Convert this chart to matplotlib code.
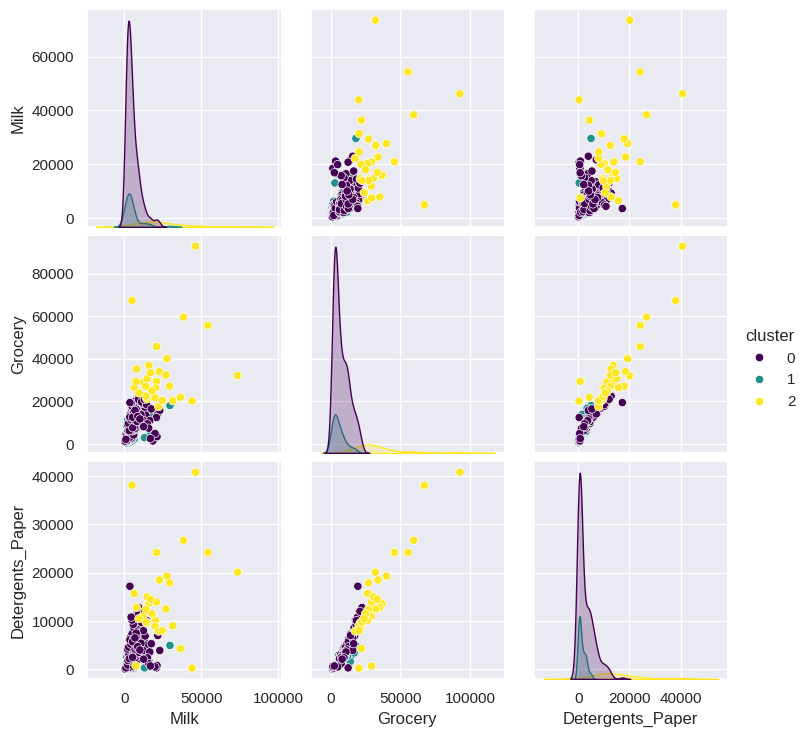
import matplotlib
matplotlib.use("Agg")
import matplotlib.pyplot as plt
import pandas as pd
import seaborn as sns

# cluster 0 (purple) - Milk / Grocery / Detergents_Paper, same order in each list
milk_0 = [
    1200, 2500, 830, 3100, 1650, 4200, 560, 2900, 1900, 3700,
    1400, 2200, 5100, 950, 3300, 1750, 2650, 4500, 640, 2050,
    3900, 1100, 2750, 1580, 4800, 2300, 730, 3450, 1920, 5400,
    2480, 1320, 3650, 860, 2120, 4050, 1460, 3020, 5600, 1780,
    670, 2890, 1230, 3280, 2010, 4620, 1540, 3800, 990, 2600,
    1850, 3550, 450, 2350, 1680, 4300, 2780, 1050, 3150, 5000,
    1270, 2180, 3420, 780, 2560, 1990, 4150, 1380, 3050, 2420,
    3750, 1600, 940, 2700, 4450, 1150, 2230, 3350, 1820, 600,
    2090, 2950, 1480, 5250, 3600, 880, 2520, 1710, 4000, 1340,
    2820, 3950, 1060, 2340, 1880, 4750, 3200, 720, 2640, 1510,
    3480, 1170, 2460, 4380, 820, 1930, 3070, 2260, 5450, 1620,
    2140, 980, 3880, 1410, 2710, 3330, 1760, 4900, 540, 2390,
    1290, 3160, 2030, 4550, 1570, 2870, 3720, 1030, 2190, 6100,
    4800, 6200, 3100, 7400, 5500, 2500, 8600, 4200, 6900, 3700,
    5900, 2900, 7900, 4500, 9400, 3400, 6500, 5200, 2200, 8100,
    4100, 7100, 3300, 5700, 8900, 2700, 6000, 4900, 7600, 3900,
    5300, 9900, 3600, 6700, 4400, 8300, 2400, 5800, 7200, 4700,
    3000, 6400, 8700, 4600, 5600, 2100, 7700, 3500, 9100, 6100,
    4300, 7000, 3200, 5100, 8000, 2800, 6600, 4000, 5400, 9600,
    9000, 10000, 11000, 12000, 9500, 10500, 8500, 11500, 12800, 7500,
    6500, 8800, 13500, 10200, 9800, 7900, 11800, 14000, 12400, 5500,
    4500, 3800, 8300, 6700, 9300, 5000, 4200, 7300, 6200, 3600,
    7000, 5800, 10800, 8200, 4900, 12200, 6000, 9100, 5300, 7700,
    11200, 6900, 8700, 4400, 10100,
    3600, 21700, 23000, 20800, 18500, 21200, 16500, 15000, 14500, 13000,
    17500, 15800, 19900, 12500, 16900]
grocery_0 = [
    2100, 3400, 1500, 4100, 2600, 3900, 1250, 2800, 3300, 4700,
    1900, 4400, 5200, 2300, 3600, 2950, 5600, 3100, 1700, 2400,
    4900, 1400, 2200, 3800, 6100, 1800, 2650, 4300, 3500, 2900,
    2700, 3150, 5800, 1600, 4600, 2350, 2050, 3700, 4500, 6400,
    1100, 2500, 3950, 1950, 5300, 3350, 1450, 2600, 4200, 3050,
    2250, 4800, 900, 3750, 1650, 4050, 6300, 2450, 2150, 5500,
    3250, 2000, 3450, 2750, 4950, 1350, 2800, 5050, 3900, 1750,
    3600, 4250, 1950, 2150, 5450, 3050, 5900, 2300, 2850, 3400,
    3850, 1550, 4650, 4150, 3000, 3550, 2550, 1200, 5150, 2700,
    4350, 2050, 3200, 6600, 2450, 3750, 4550, 2100, 1850, 5700,
    2350, 2900, 3300, 4850, 1500, 6000, 2150, 4000, 3500, 3650,
    1650, 4450, 2750, 2400, 3550, 5350, 3800, 2500, 1350, 4750,
    2600, 3950, 1900, 2950, 4100, 5000, 3250, 2250, 6200, 4300,
    7100, 8600, 6800, 9900, 10800, 7500, 9200, 11600, 8100, 12400,
    6500, 9600, 10300, 7800, 8400, 12900, 11100, 6200, 8900, 7300,
    10100, 6900, 9400, 11900, 9700, 8200, 12200, 7600, 10500, 6600,
    8800, 11400, 7000, 9100, 12600, 10000, 6400, 11300, 8500, 9500,
    7200, 10600, 8000, 12000, 6700, 9300, 7900, 10900, 12800, 9000,
    11800, 7400, 6300, 10400, 11500, 9800, 8300, 12300, 7700, 10700,
    14500, 15500, 14000, 16500, 17500, 13000, 16000, 18000, 15000, 17000,
    18500, 19500, 17200, 20500, 12000, 15200, 12400, 13600, 19000, 16200,
    15000, 13800, 21500, 20000, 22500, 14200, 11500, 13300, 16800, 12700,
    11000, 18200, 13900, 10600, 17800, 11200, 14700, 21000, 12600, 16400,
    19800, 15800, 13000, 19300, 11800,
    19500, 14200, 15800, 12500, 1500, 3500, 11000, 9500, 18500, 21000,
    16500, 7500, 5000, 8200, 2600]
det_0 = [
    190, 430, 110, 590, 270, 380, 50, 310, 530, 740,
    160, 690, 790, 250, 460, 350, 850, 230, 130, 280,
    630, 90, 200, 550, 890, 140, 340, 610, 410, 260,
    300, 370, 830, 170, 650, 210, 230, 520, 440, 880,
    70, 250, 580, 180, 760, 350, 140, 290, 670, 390,
    220, 710, 40, 490, 160, 580, 900, 260, 200, 800,
    470, 170, 370, 320, 720, 100, 270, 770, 540, 150,
    420, 610, 190, 220, 840, 440, 870, 240, 360, 510,
    560, 120, 700, 490, 330, 570, 280, 80, 800, 310,
    650, 230, 430, 890, 320, 400, 700, 290, 180, 850,
    250, 400, 440, 740, 160, 830, 220, 590, 360, 530,
    130, 640, 310, 260, 480, 760, 560, 200, 60, 680,
    340, 520, 200, 370, 600, 790, 410, 290, 880, 550,
    2300, 3100, 2600, 3800, 4400, 2900, 2200, 5200, 3300, 5700,
    1700, 4100, 3600, 2500, 2100, 6000, 4700, 1600, 3500, 1900,
    4300, 2000, 3900, 5400, 3200, 3400, 5100, 2800, 3700, 2400,
    3000, 3900, 2700, 3600, 5800, 2600, 1800, 4900, 2300, 4000,
    3100, 4500, 2100, 5300, 1900, 4200, 1700, 4800, 4600, 3300,
    5500, 2400, 2200, 4400, 4100, 4600, 2900, 5900, 2500, 3500,
    6600, 7000, 5600, 7600, 8300, 4800, 7200, 9000, 6100, 8800,
    9800, 10500, 6900, 11800, 4400, 6800, 3800, 5000, 8000, 7800,
    6900, 6600, 12300, 11000, 12800, 7300, 5200, 5900, 8600, 6100,
    4200, 9300, 5400, 4500, 10200, 3900, 6300, 11300, 5700, 7500,
    9700, 6500, 4700, 10800, 4000,
    17200, 7000, 3900, 300, 600, 800, 3600, 2400, 10100, 12000,
    5300, 1200, 500, 2100, 700]

# cluster 1 (teal)
milk_1 = [29600, 16500, 13100, 11700, 12000, 16100, 4700, 3500, 7100, 6300,
          5400, 4900, 4500, 4100, 3800, 3600, 3400, 3200, 3000, 2900,
          2800, 2700, 2500, 2400, 2300, 2200, 2100, 2000, 1900, 1700,
          1600, 1500, 1300, 1100, 900, 700, 3300, 2600, 3900, 4300,
          5100, 5800, 1800, 2400, 3100]
grocery_1 = [18100, 4000, 3000, 14600, 16800, 14000, 12200, 9500, 7800, 2100,
             6400, 1200, 8700, 3300, 5100, 900, 10600, 2700, 4600, 1700,
             7300, 3800, 500, 5900, 2300, 11400, 1400, 4200, 6800, 2900,
             8100, 600, 3500, 5400, 1900, 4800, 2500, 9200, 1100, 6100,
             3100, 7000, 2000, 4400, 1600]
det_1 = [4950, 500, 300, 2700, 3400, 1600, 2800, 2400, 2100, 200,
         1500, 90, 3200, 450, 1000, 60, 2900, 380, 850, 150,
         1900, 600, 40, 3000, 250, 4600, 130, 700, 1700, 420,
         2600, 70, 550, 1100, 180, 950, 320, 3600, 110, 1250,
         480, 2200, 230, 800, 160]

# cluster 2 (yellow)
milk_2 = [73500, 54300, 46200, 43950, 38400, 36400, 20960, 4980, 27700, 22700,
          15900, 7900, 29400, 6500, 20900, 12000, 14800, 27000, 14000, 20300,
          14600, 20000, 31400, 22200, 24600, 7500, 14000, 18000, 9500, 17000]
grocery_2 = [32100, 55600, 92800, 20200, 59600, 22000, 45800, 67300, 40100, 34000,
             36900, 35200, 27200, 26600, 29400, 29100, 30700, 32400, 27000, 26300,
             21200, 21800, 20400, 17600, 20400, 29400, 22500, 25000, 24000, 33500]
det_2 = [20100, 24200, 40800, 240, 26700, 4300, 24200, 38100, 19300, 18500,
         13600, 12800, 17900, 15700, 13900, 11000, 15000, 12500, 12400, 10100,
         9600, 8900, 9000, 7900, 8000, 700, 9800, 11500, 10500, 14500]

features = ['Milk', 'Grocery', 'Detergents_Paper']

# drawing order: part of the purple core, then teal, then the rest
split = 65
df = pd.DataFrame({
    'Milk': milk_0[:split] + milk_1 + milk_0[split:] + milk_2,
    'Grocery': grocery_0[:split] + grocery_1 + grocery_0[split:] + grocery_2,
    'Detergents_Paper': det_0[:split] + det_1 + det_0[split:] + det_2,
    'cluster': [0] * split + [1] * len(milk_1) + [0] * (len(milk_0) - split)
               + [2] * len(milk_2),
})

sns.set_theme()
plt.rcParams['font.family'] = ['Liberation Sans', 'DejaVu Sans']

g = sns.pairplot(df, vars=features, hue='cluster', palette='viridis')
g.figure.set_size_inches(8.09, 7.38)
g.figure.subplots_adjust(left=0.108, right=0.899, bottom=0.080, top=0.986,
                         wspace=0.155, hspace=0.044)

# column ranges as in the original (driven by the wide kde tails)
g.axes[2, 0].set_xlim(-24000, 101500)
g.axes[2, 1].set_xlim(-14400, 124500)
g.axes[2, 2].set_xlim(-17400, 58300)

g._legend.set_bbox_to_anchor((1.0, 0.5))

g.figure.savefig('out.png', dpi=100)
